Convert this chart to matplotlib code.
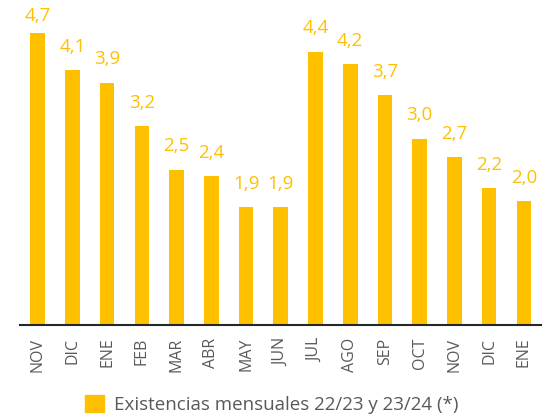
import matplotlib
matplotlib.use('Agg')
import matplotlib.pyplot as plt
from matplotlib.patches import Patch

months = ['NOV', 'DIC', 'ENE', 'FEB', 'MAR', 'ABR', 'MAY', 'JUN',
          'JUL', 'AGO', 'SEP', 'OCT', 'NOV', 'DIC', 'ENE']
values = [4.7, 4.1, 3.9, 3.2, 2.5, 2.4, 1.9, 1.9, 4.4, 4.2, 3.7, 3.0, 2.7, 2.2, 2.0]
legend_label = 'Existencias mensuales 22/23 y 23/24 (*)'

plt.rcParams['font.family'] = ['Open Sans', 'DejaVu Sans']
barcolor = '#FFC000'
textcolor = '#595959'

fig = plt.figure(figsize=(5.5, 4.18), dpi=100)
ax = fig.add_axes([0.037, 0.222, 0.947, 0.778])

x = list(range(len(values)))
ax.bar(x, values, width=0.42, color=barcolor)

#labels sit above the bars, pushed down at the top edge
ymax = 5.23
for xi, v in zip(x, values):
	ly = min(v + 0.23, ymax - 0.41)
	ax.text(xi, ly, ('%.1f' % v).replace('.', ','), ha='center', va='bottom',
		fontsize=13.5, color=barcolor, clip_on=False)

ax.set_xlim(-0.5, len(values) - 0.5)
ax.set_ylim(0, ymax)
ax.set_xticks(x)
ax.set_xticklabels(months, rotation=90, fontsize=11.5, color=textcolor)
ax.tick_params(axis='x', length=0, pad=9)
ax.set_yticks([])
for s in ['top', 'right', 'left']:
	ax.spines[s].set_visible(False)
ax.spines['bottom'].set_color('#262626')
ax.spines['bottom'].set_linewidth(1.5)

fig.legend(handles=[Patch(color=barcolor, label=legend_label)],
	loc='center', bbox_to_anchor=(0.494, 0.032), frameon=False,
	fontsize=13.5, labelcolor=textcolor, handlelength=1.0, handleheight=1.0,
	handletextpad=0.5)

plt.savefig('out.png')
